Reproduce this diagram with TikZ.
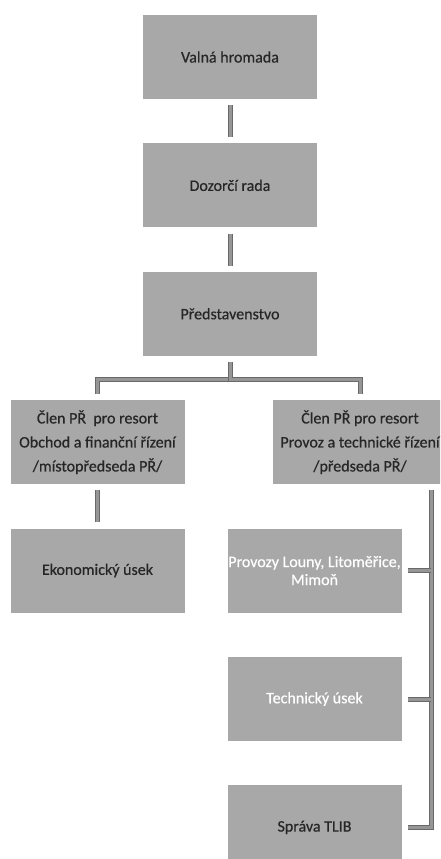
\documentclass[tikz,border=0pt]{standalone}
\usepackage{fontspec}
\setmainfont{Carlito}[FakeBold=0.6]
\usepackage{tikz}
\usetikzlibrary{positioning}
\usepackage{xcolor}
\definecolor{boxgray}{RGB}{168,168,168}
\definecolor{linkedge}{RGB}{105,105,105}
\definecolor{linkfill}{RGB}{150,150,150}

\begin{document}
\begin{tikzpicture}[node distance=44pt, auto]
\tikzstyle{unit}=[rectangle, fill=boxgray, minimum width=174pt,
  minimum height=84pt, inner sep=0pt, align=center,
  text=black!85, font=\fontsize{16}{24}\selectfont]
\tikzstyle{link}=[draw=linkedge, line width=1pt, double=linkfill,
  double distance=3pt, shorten <=6pt, shorten >=6pt]

\useasboundingbox (0,0) rectangle (440pt,-859pt);
\clip (0,0) rectangle (440pt,-859pt);

% top of the chart
\node (valna) [unit] at (230pt,-57pt) {Valná hromada};
\node (dozorci) [unit, below=of valna] {Dozorčí rada};
\node (predst) [unit, below=of dozorci] {Představenstvo};

% board members
\node (clenof) [unit, below=of predst, xshift=-132.5pt]
  {Člen PŘ\ \ pro resort\\Obchod a finanční řízení\\/místopředseda PŘ/};
\node (clenpt) [unit, below=of predst, xshift=130pt]
  {Člen PŘ pro resort\\Provoz a technické řízení\\/předseda PŘ/};

% departments
\node (ekonom) [unit, below=of clenof] {Ekonomický úsek};
\node (provozy) [unit, below=of clenpt, xshift=-45.5pt, text=white]
  {Provozy Louny, Litoměřice,\\[-6pt]Mimoň};
\node (technik) [unit, below=of provozy, text=white] {Technický úsek};
\node (tlib) [unit, below=of technik] {Správa TLIB};

\coordinate (spine) at (431pt,0 |- clenpt.south);

\draw [link] (valna) -- (dozorci);
\draw [link] (dozorci) -- (predst);
\draw [link] (predst.south) -- ++(0,-23pt) -| (clenof.north);
\draw [link] (predst.south) -- ++(0,-23pt) -| (clenpt.north);
\draw [link] (clenof) -- (ekonom);
\draw [link] (spine) |- (tlib.east);
\draw [link, shorten >=0pt] (provozy.east) -- (provozy.east -| spine);
\draw [link, shorten >=0pt] (technik.east) -- (technik.east -| spine);
\end{tikzpicture}
\end{document}
